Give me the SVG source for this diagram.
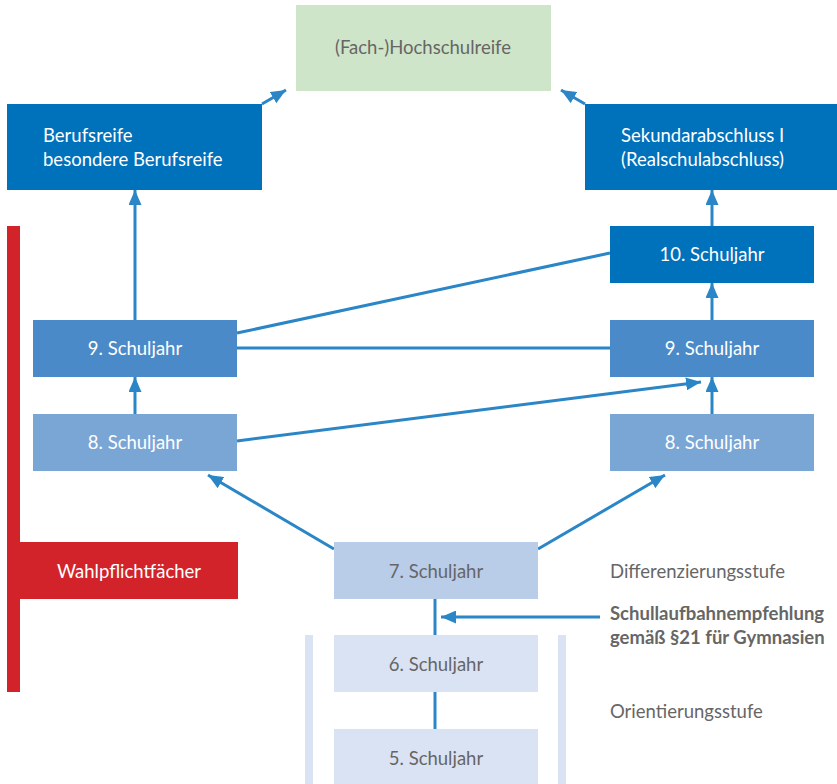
<svg xmlns="http://www.w3.org/2000/svg" width="837" height="784" viewBox="0 0 837 784">
<style>
text{font-family:"Lato","Noto Sans",sans-serif;font-size:18.5px}
.w{fill:#fff}
.g{fill:#666}
.c{text-anchor:middle}
.b{font-weight:bold}
.ln{stroke:#2a86c6;stroke-width:3;fill:none}
</style>
<defs>
<marker id="ah" viewBox="0 0 15 13" refX="15" refY="6.5" markerWidth="15" markerHeight="13" markerUnits="userSpaceOnUse" orient="auto">
<path d="M0,0 L15,6.5 L0,13 z" fill="#2a86c6"/>
</marker>
</defs>
<rect width="837" height="784" fill="#fff"/>
<g id="sidebars">
<rect x="305" y="635" width="8" height="149" fill="#dae3f3"/>
<rect x="558" y="635" width="8" height="149" fill="#dae3f3"/>
</g>
<g id="connectors">
<line class="ln" x1="262" y1="104" x2="286" y2="90" marker-end="url(#ah)"/>
<line class="ln" x1="585" y1="104" x2="561" y2="90" marker-end="url(#ah)"/>
<line class="ln" x1="135" y1="320" x2="135" y2="190" marker-end="url(#ah)"/>
<line class="ln" x1="135" y1="414" x2="135" y2="377" marker-end="url(#ah)"/>
<line class="ln" x1="712" y1="226" x2="712" y2="190" marker-end="url(#ah)"/>
<line class="ln" x1="712" y1="320" x2="712" y2="283" marker-end="url(#ah)"/>
<line class="ln" x1="712" y1="414" x2="712" y2="377" marker-end="url(#ah)"/>
<line class="ln" x1="237" y1="333" x2="610" y2="253"/>
<line class="ln" x1="237" y1="348" x2="610" y2="348"/>
<line class="ln" x1="237" y1="441" x2="701" y2="382" marker-end="url(#ah)"/>
<line class="ln" x1="334" y1="549" x2="208" y2="475" marker-end="url(#ah)"/>
<line class="ln" x1="538" y1="549" x2="665" y2="475" marker-end="url(#ah)"/>
<line class="ln" x1="435" y1="599" x2="435" y2="635"/>
<line class="ln" x1="435" y1="692" x2="435" y2="729"/>
<line class="ln" x1="600" y1="617" x2="441" y2="617" marker-end="url(#ah)"/>
</g>
<g id="hochschulreife"><rect x="296" y="5" width="255" height="86" fill="#cfe5c9"/><text class="g c" x="423" y="54">(Fach-)Hochschulreife</text></g>
<g id="berufsreife"><rect x="7" y="104" width="255" height="86" fill="#0071bb"/><text class="w" x="43" y="142">Berufsreife</text><text class="w" x="43" y="166">besondere Berufsreife</text></g>
<g id="sekundar"><rect x="585" y="104" width="252" height="86" fill="#0071bb"/><text class="w" x="621" y="142">Sekundarabschluss I</text><text class="w" x="621" y="166">(Realschulabschluss)</text></g>
<g id="j10r"><rect x="610" y="226" width="204" height="57" fill="#0071bb"/><text class="w c" x="712" y="261">10. Schuljahr</text></g>
<g id="j9l"><rect x="33" y="320" width="204" height="57" fill="#4a8ac8"/><text class="w c" x="135" y="355">9. Schuljahr</text></g>
<g id="j9r"><rect x="610" y="320" width="204" height="57" fill="#4a8ac8"/><text class="w c" x="712" y="355">9. Schuljahr</text></g>
<g id="j8l"><rect x="33" y="414" width="204" height="57" fill="#7aa6d6"/><text class="w c" x="135" y="449">8. Schuljahr</text></g>
<g id="j8r"><rect x="610" y="414" width="204" height="57" fill="#7aa6d6"/><text class="w c" x="712" y="449">8. Schuljahr</text></g>
<g id="wahlpflicht"><rect x="7" y="226" width="13" height="466" fill="#d2232a"/><rect x="7" y="542" width="231" height="57" fill="#d2232a"/><text class="w c" x="129" y="578">Wahlpflichtfächer</text></g>
<g id="j7"><rect x="334" y="542" width="204" height="57" fill="#b9cce8"/><text class="g c" x="436" y="578">7. Schuljahr</text></g>
<g id="j6"><rect x="334" y="635" width="204" height="57" fill="#dae3f3"/><text class="g c" x="436" y="671">6. Schuljahr</text></g>
<g id="j5"><rect x="334" y="729" width="204" height="55" fill="#dae3f3"/><text class="g c" x="436" y="765">5. Schuljahr</text></g>
<g id="labels">
<text class="g" x="610" y="578">Differenzierungsstufe</text>
<text class="g b" x="610" y="620">Schullaufbahnempfehlung</text>
<text class="g b" x="610" y="644">gemäß §21 für Gymnasien</text>
<text class="g" x="610" y="718">Orientierungsstufe</text>
</g>
</svg>
